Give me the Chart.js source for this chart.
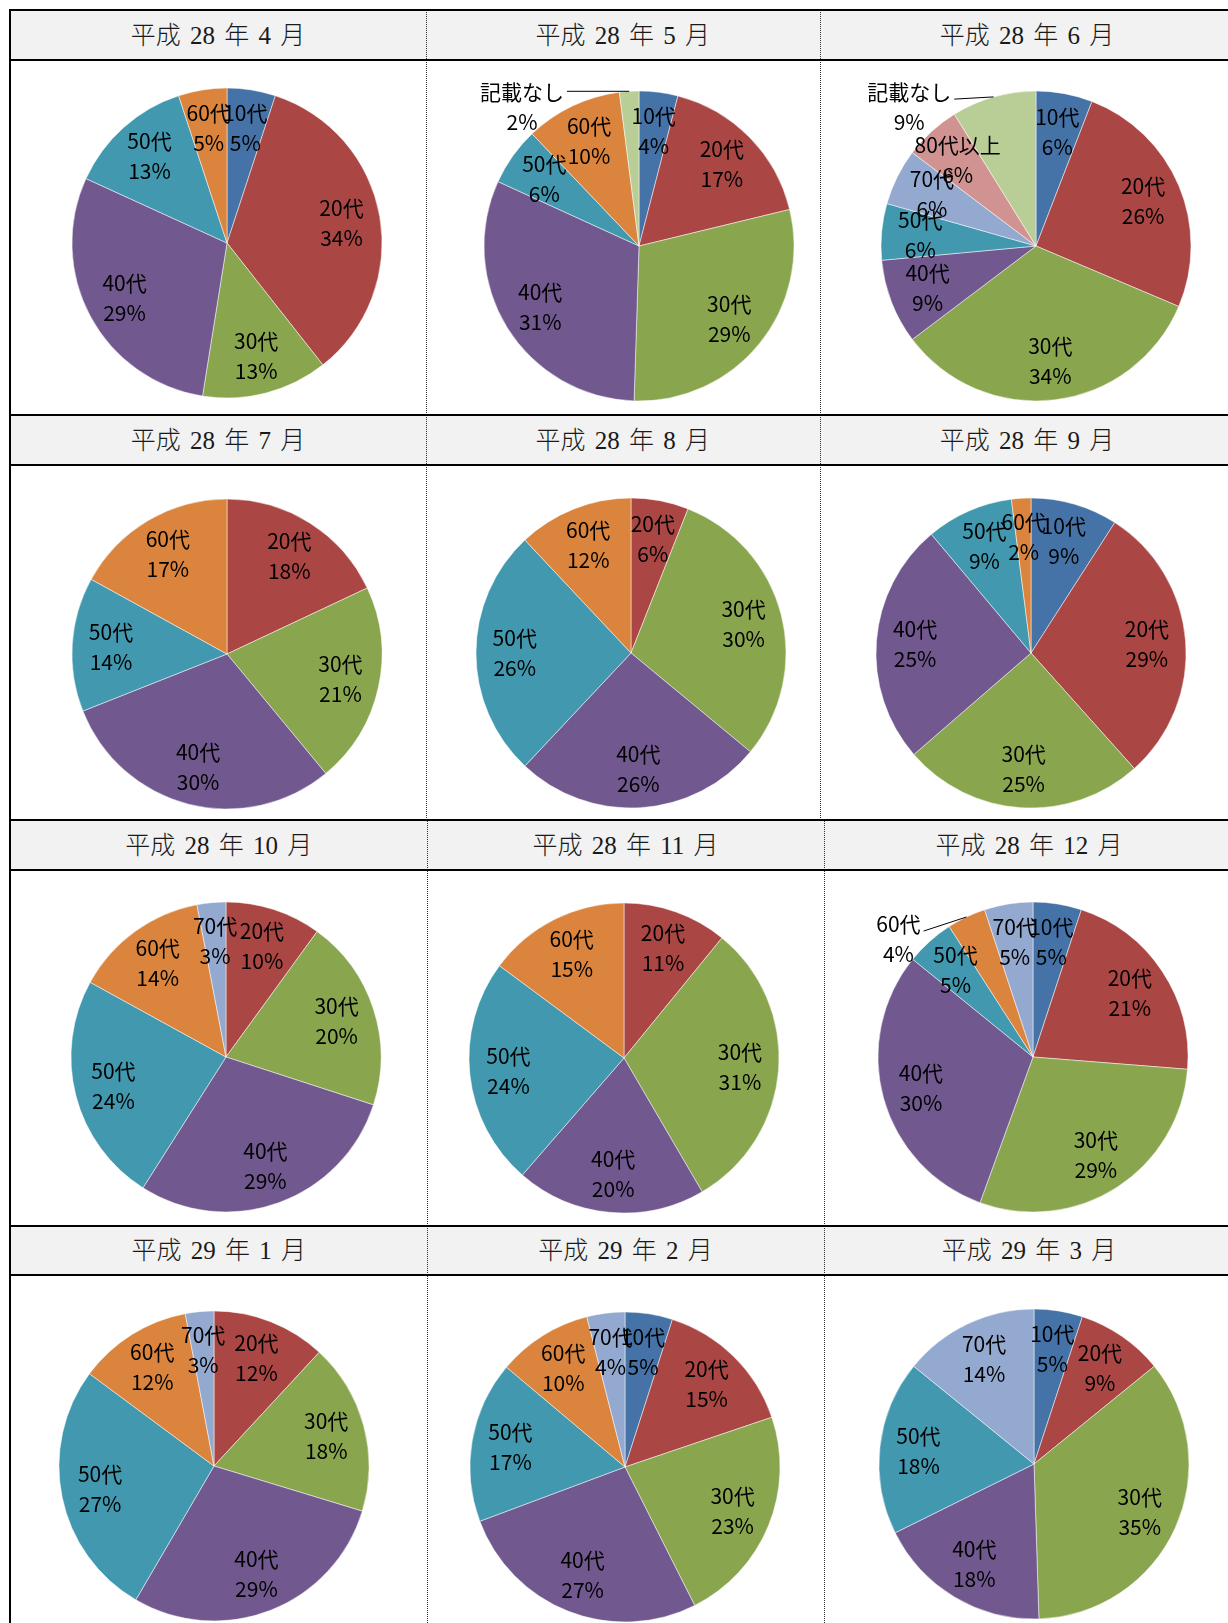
<!DOCTYPE html>
<html>
<head>
<meta charset="utf-8">
<script src="https://cdn.jsdelivr.net/npm/chart.js@4.4.1/dist/chart.umd.min.js"></script>
<style>
  html, body { margin: 0; padding: 0; background: #fff; }
  #sheet { position: relative; width: 1228px; height: 1623px; overflow: hidden; }
  .hbar { position: absolute; left: 10px; width: 1230px; height: 2px; background: #000; }
  .head { position: absolute; background: #f2f2f2; }
  .title { position: absolute; text-align: center; font-family: "Liberation Serif", "Noto Sans CJK JP"; font-size: 25px; font-weight: 300; color: #1a1a1a; word-spacing: 3px; white-space: pre; }
  .vdot { position: absolute; width: 0; border-left: 1px dotted #333; }
  .vsolid { position: absolute; width: 2px; background: #000; }
  canvas { position: absolute; }
</style>
</head>
<body>
<div id="sheet"></div>
<script>
// age groups, in the order the slices run clockwise from 12 o'clock
const ages = ['10代', '20代', '30代', '40代', '50代', '60代', '70代', '80代以上', '記載なし'];
const ageColors = ['#4572A7', '#AA4643', '#89A54E', '#71588F', '#4198AF', '#DB843D', '#93A9CF', '#D19392', '#B9CD96'];

const titles = [
  '平成 28 年 4 月', '平成 28 年 5 月', '平成 28 年 6 月',
  '平成 28 年 7 月', '平成 28 年 8 月', '平成 28 年 9 月',
  '平成 28 年 10 月', '平成 28 年 11 月', '平成 28 年 12 月',
  '平成 29 年 1 月', '平成 29 年 2 月', '平成 29 年 3 月'
];

// percentages per age group (0 = no slice)
const h28Apr = [5, 34, 13, 29, 13, 5, 0, 0, 0];
const h28May = [4, 17, 29, 31, 6, 10, 0, 0, 2];
const h28Jun = [6, 26, 34, 9, 6, 0, 6, 6, 9];
const h28Jul = [0, 18, 21, 30, 14, 17, 0, 0, 0];
const h28Aug = [0, 6, 30, 26, 26, 12, 0, 0, 0];
const h28Sep = [9, 29, 25, 25, 9, 2, 0, 0, 0];
const h28Oct = [0, 10, 20, 29, 24, 14, 3, 0, 0];
const h28Nov = [0, 11, 31, 20, 24, 15, 0, 0, 0];
const h28Dec = [5, 21, 29, 30, 5, 4, 5, 0, 0];
const h29Jan = [0, 12, 18, 29, 27, 12, 3, 0, 0];
const h29Feb = [5, 15, 23, 27, 17, 10, 4, 0, 0];
const h29Mar = [5, 9, 35, 18, 18, 0, 14, 0, 0];
const monthValues = [h28Apr, h28May, h28Jun, h28Jul, h28Aug, h28Sep, h28Oct, h28Nov, h28Dec, h29Jan, h29Feb, h29Mar];

// table geometry
const rowLines = [10.4, 60, 415.2, 464.9, 820, 869.7, 1225.9, 1274.6];
const colEdges = [
  [10.4, 425.5, 820, 1234], [10.4, 425.5, 820, 1234],
  [10.4, 427, 824, 1234], [10.4, 427, 824, 1234]
];
const pieCenters = [
  [226.8, 243.3], [638.8, 246.4], [1036.4, 246.4],
  [226.8, 654.4], [630.6, 653.3], [1031.3, 653.3],
  [225.7, 1057.1], [624.3, 1058.2], [1033.3, 1057.1],
  [214.3, 1466.1], [625.4, 1467.1], [1034.4, 1464]
];
const R = 155;
const BOX = 420;
const LINE = 30;
// labels pulled outside the pie with a leader line (offset in radii)
const outside = {
  1: { age: '記載なし', x: -0.755, y: -0.897 },
  2: { age: '記載なし', x: -0.818, y: -0.896 },
  8: { age: '60代', x: -0.868, y: -0.761 }
};

const sheet = document.getElementById('sheet');
function el(cls, css) {
  const d = document.createElement('div');
  d.className = cls;
  Object.assign(d.style, css);
  sheet.appendChild(d);
  return d;
}

// header backgrounds + titles
for (let r = 0; r < 4; r++) {
  const top = rowLines[r * 2], bot = rowLines[r * 2 + 1];
  el('head', { left: '10px', top: top + 'px', width: '1230px', height: (bot - top) + 'px' });
  for (let c = 0; c < 3; c++) {
    const x0 = colEdges[r][c], x1 = colEdges[r][c + 1];
    const t = el('title', { left: x0 + 'px', width: (x1 - x0) + 'px', top: top + 'px', height: (bot - top) + 'px', lineHeight: (bot - top + 2) + 'px' });
    t.textContent = titles[r * 3 + c];
  }
}
// dotted column dividers
for (let r = 0; r < 4; r++) {
  const top = rowLines[r * 2];
  const bot = r < 3 ? rowLines[r * 2 + 2] : 1623;
  [1, 2].forEach(c => el('vdot', { left: colEdges[r][c] + 'px', top: top + 'px', height: (bot - top) + 'px' }));
}
// outer left border and horizontal rules
el('vsolid', { left: '9.4px', top: '9.4px', height: '1620px' });
rowLines.forEach(y => el('hbar', { top: (y - 1) + 'px' }));

const sliceLabels = {
  id: 'sliceLabels',
  afterDatasetsDraw(chart, args, opts) {
    const ctx = chart.ctx;
    const meta = chart.getDatasetMeta(0);
    const vals = chart.data.datasets[0].data;
    ctx.save();
    ctx.font = '21px "Noto Sans CJK JP"';
    ctx.fillStyle = '#000';
    ctx.strokeStyle = '#000';
    ctx.lineWidth = 1;
    ctx.textAlign = 'center';
    ctx.textBaseline = 'middle';
    meta.data.forEach((arc, i) => {
      const name = chart.data.labels[i];
      const mid = (arc.startAngle + arc.endAngle) / 2;
      const r = arc.outerRadius;
      let x = arc.x + Math.cos(mid) * r * 0.75;
      let y = arc.y + Math.sin(mid) * r * 0.75;
      const out = opts.outside;
      if (out && out.age === name) {
        x = arc.x + out.x * r;
        y = arc.y + out.y * r;
        const ax = arc.x + Math.cos(mid) * r, ay = arc.y + Math.sin(mid) * r;
        const y1 = y - LINE / 2;
        const sx = x + ctx.measureText(name).width / 2 + 3;
        const sy = Math.abs(ay - y1) < 4 ? ay : y1 + 7;
        ctx.beginPath();
        ctx.moveTo(sx, sy);
        ctx.lineTo(ax, ay);
        ctx.stroke();
      }
      ctx.fillText(name, x, y - LINE / 2);
      ctx.fillText(vals[i] + '%', x, y + LINE / 2);
    });
    ctx.restore();
  }
};

monthValues.forEach((vals, k) => {
  const labels = [], data = [], colors = [];
  vals.forEach((v, i) => {
    if (v > 0) { labels.push(ages[i]); data.push(v); colors.push(ageColors[i]); }
  });
  const cv = document.createElement('canvas');
  cv.width = BOX; cv.height = BOX;
  cv.style.left = (pieCenters[k][0] - BOX / 2) + 'px';
  cv.style.top = (pieCenters[k][1] - BOX / 2) + 'px';
  cv.style.width = BOX + 'px'; cv.style.height = BOX + 'px';
  sheet.appendChild(cv);
  new Chart(cv, {
    type: 'pie',
    data: {
      labels: labels,
      datasets: [{ data: data, backgroundColor: colors, borderColor: 'rgba(255,255,255,0.7)', borderWidth: 0.7 }]
    },
    options: {
      responsive: false,
      devicePixelRatio: 1,
      animation: false,
      events: [],
      radius: R,
      layout: { padding: 0 },
      plugins: {
        legend: { display: false },
        tooltip: { enabled: false },
        sliceLabels: { outside: outside[k] }
      }
    },
    plugins: [sliceLabels]
  });
});
</script>
</body>
</html>
